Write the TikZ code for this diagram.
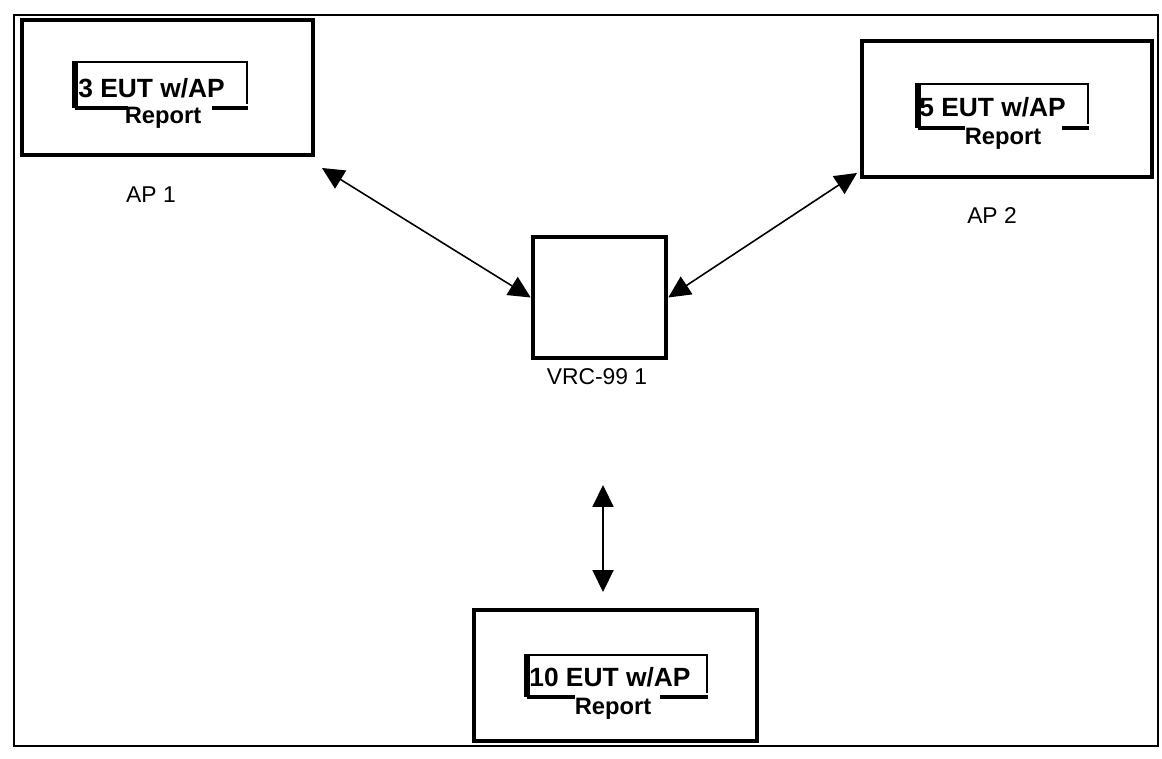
\documentclass[tikz,border=0pt]{standalone}
\usepackage{fontspec}
\setmainfont{Liberation Sans}
\usetikzlibrary{arrows.meta}

\tikzset{
  unit/.style={draw,line width=2.6pt,inner sep=0pt},
  title/.style={anchor=west,inner sep=0pt,font=\bfseries\fontsize{15}{17}\selectfont},
  rep/.style={inner sep=0pt,font=\bfseries\fontsize{13.5}{15}\selectfont},
  lbl/.style={inner sep=0pt,font=\fontsize{13}{15}\selectfont},
  link/.style={line width=0.9pt,{Triangle[length=12.5pt,width=12pt]}-{Triangle[length=12.5pt,width=12pt]}}
}

\begin{document}
\begin{tikzpicture}[x=0.02cm,y=-0.02cm]
\useasboundingbox (0,0) rectangle (1162,759);
\draw[line width=1.5pt] (14,15) rectangle (1158,746);

% access points and the radio
\node[unit,minimum width=291*0.02cm,minimum height=135*0.02cm] (ap1) at (167.5,87.5) {};
\node[unit,minimum width=290*0.02cm,minimum height=136*0.02cm] (ap2) at (1007,109) {};
\node[unit,minimum width=283*0.02cm,minimum height=131*0.02cm] (ap3) at (615.5,675.5) {};
\node[unit,minimum width=133*0.02cm,minimum height=121*0.02cm] (vrc) at (599.5,297.5) {};

\node[lbl] (l1) at (151,195) {AP 1};
\node[lbl] (l2) at (992,216) {AP 2};
\node[lbl] (l3) at (597,377) {VRC-99 1};

% report boxes
\node[title] (t1) at (78,88) {3 EUT w/AP};
\node[title] (t2) at (919,107) {5 EUT w/AP};
\node[title] (t3) at (529,677) {10 EUT w/AP};
\node[rep] (r1) at (163,118) {Report};
\node[rep] (r2) at (1003,139) {Report};
\node[rep] (r3) at (613,709) {Report};

\foreach \x/\y/\w/\h/\a/\b in {75/62/172/46/53/35, 918/84/170/44/47/26, 527/655/180/42/48/47}{
  \draw[line width=1.6pt] (\x,\y) -- (\x+\w,\y) -- (\x+\w,\y+\h-4);
  \draw[line width=3pt] (\x,\y-1) -- (\x,\y+\h);
  \draw[line width=2.6pt] (\x,\y+\h) -- (\x+\a,\y+\h);
  \draw[line width=2.6pt] (\x+\w-\b,\y+\h) -- (\x+\w+1,\y+\h);
}

% links
\coordinate (e1) at (322,168);
\coordinate (e2) at (857,173);
\coordinate (e3) at (603,485);
\coordinate (e4) at (603,592);
\draw[link] (e1) -- (vrc.west);
\draw[link] (e2) -- (vrc.east);
\draw[link] (e3) -- (e4);
\end{tikzpicture}
\end{document}
